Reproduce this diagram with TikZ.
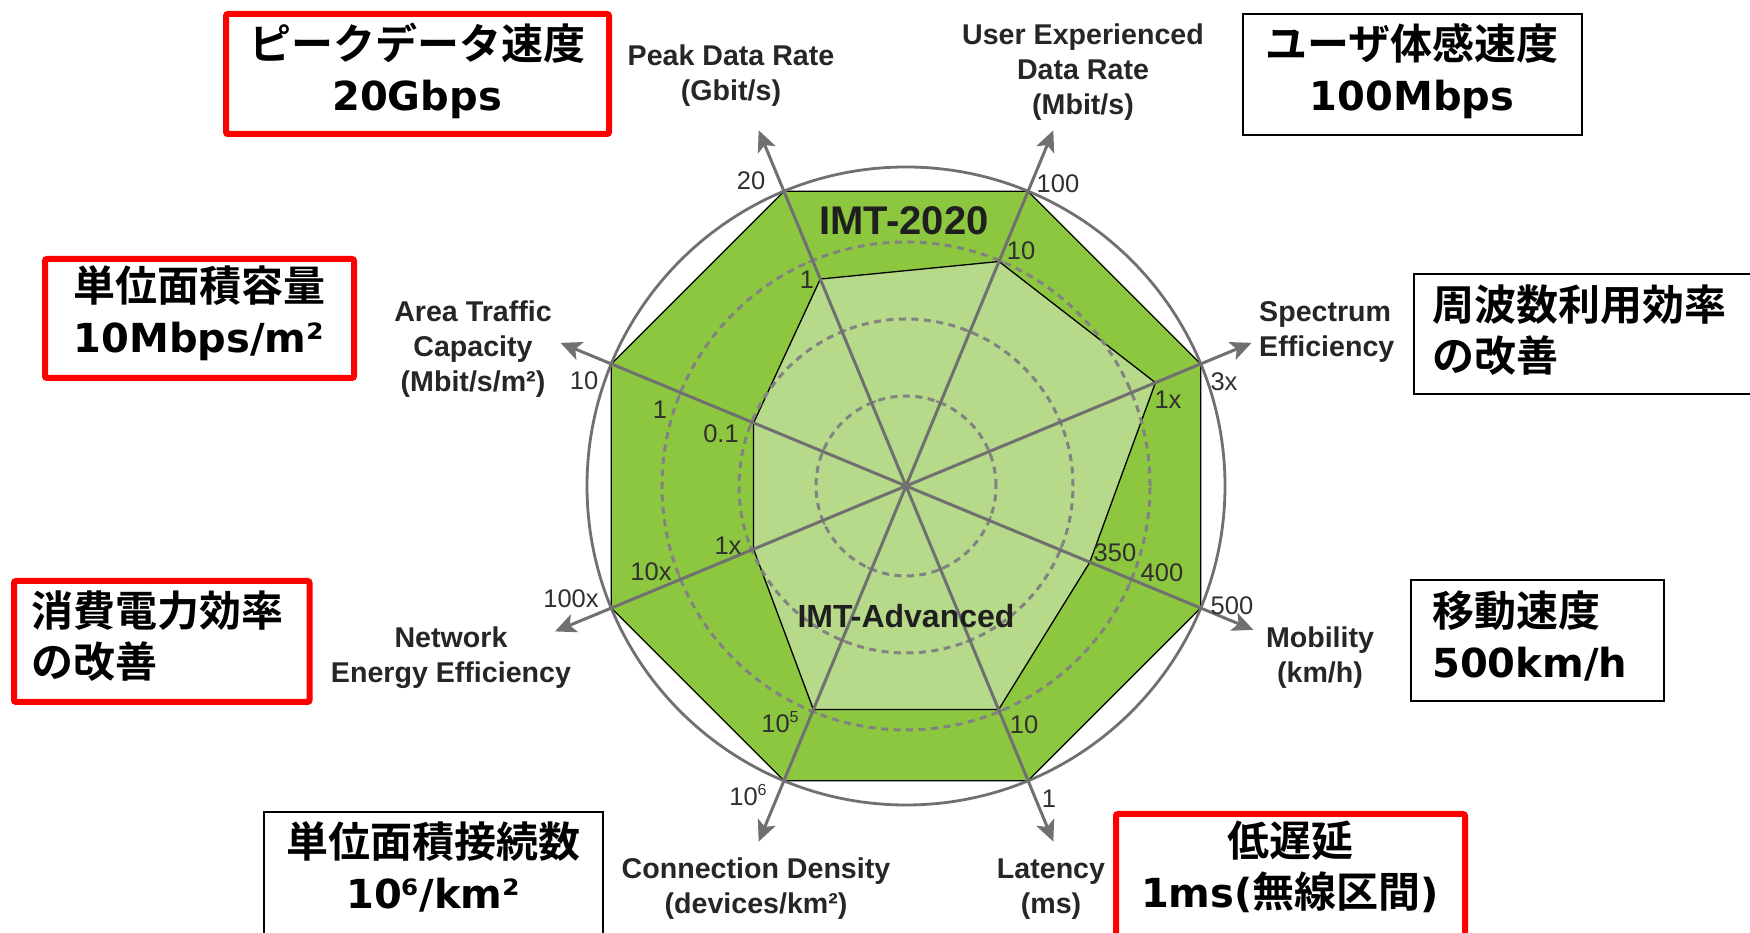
\documentclass[tikz,border=0pt]{standalone}
\usepackage{fontspec}
\setmainfont{Liberation Sans}
\newfontfamily\jpf{Noto Sans CJK JP Bold}[Scale=1.05]
\newfontfamily\latf{DejaVu Sans Bold}
\usetikzlibrary{calc,arrows.meta}

\definecolor{ringgreen}{RGB}{141,198,63}
\definecolor{coregreen}{RGB}{183,217,138}
\definecolor{axisgray}{RGB}{112,112,112}
\definecolor{dashgray}{RGB}{130,130,130}
\definecolor{labelink}{RGB}{38,38,38}
\definecolor{ticklink}{RGB}{48,48,48}
\definecolor{boxred}{RGB}{255,0,0}

% small raised digit for powers of ten on the scale labels
\newcommand\supnum[1]{\raisebox{0.42em}{\fontsize{16}{16}\selectfont #1}}

\begin{document}
\begin{tikzpicture}[x=1pt,y=1pt,
  axisline/.style={draw=axisgray, line width=3pt,
    -{Stealth[length=21pt,width=19pt,inset=5pt]}},
  dashring/.style={draw=dashgray, line width=3pt, dash pattern=on 7pt off 5.5pt},
  outerring/.style={draw=axisgray, line width=2.8pt},
  scaletick/.style={draw=dashgray, line width=2pt},
  axlabel/.style={font=\bfseries\fontsize{28.6}{35}\selectfont, text=labelink,
    align=center, inner sep=0pt},
  ticklab/.style={font=\fontsize{25.5}{25.5}\selectfont, text=ticklink, inner sep=0pt},
  gentitle/.style={font=\bfseries\fontsize{40}{40}\selectfont, text=black!88, inner sep=0pt},
  boxtext/.style={font=\latf\fontsize{40}{51}\selectfont, text=black, inner sep=0pt},
  redframe/.style={draw=boxred, line width=6pt, rounded corners=2pt},
  blackframe/.style={draw=black, line width=2.2pt}
]
\useasboundingbox (0,0) rectangle (1750,933);
\fill[white] (0,0) rectangle (1750,933);

\coordinate (C) at (906,447);

% IMT-2020 octagon
\filldraw[fill=ringgreen, draw=black, line width=1.3pt]
  ($(C)+(22.5:319)$) -- ($(C)+(67.5:319)$) -- ($(C)+(112.5:319)$) --
  ($(C)+(157.5:319)$) -- ($(C)+(202.5:319)$) -- ($(C)+(247.5:319)$) --
  ($(C)+(292.5:319)$) -- ($(C)+(337.5:319)$) -- cycle;

% IMT-Advanced polygon
\filldraw[fill=coregreen, draw=black, line width=1.3pt]
  ($(C)+(112.5:224)$) -- ($(C)+(67.5:243)$) -- ($(C)+(22.5:270)$) --
  ($(C)+(-22.5:199)$) -- ($(C)+(-67.5:242)$) -- ($(C)+(-112.5:242)$) --
  ($(C)+(-157.5:165)$) -- ($(C)+(157.5:165)$) -- cycle;

% scale rings
\draw[dashring] (C) circle[radius=90];
\draw[dashring] (C) circle[radius=167];
\draw[dashring] (C) circle[radius=244];
\foreach \a in {22.5,67.5,112.5,157.5,202.5,247.5,292.5,337.5}
  \foreach \r in {90,167,244}
    \draw[scaletick] ($(C)+(\a:\r)+(\a+90:4.5)$) -- ($(C)+(\a:\r)+(\a-90:4.5)$);

\draw[outerring] (C) circle[radius=319];

% axis ends
\coordinate (aPeak) at ($(C)+(112.5:385)$);
\coordinate (aUser) at ($(C)+(67.5:385)$);
\coordinate (aSpec) at ($(C)+(22.5:374)$);
\coordinate (aMob)  at ($(C)+(-22.5:376)$);
\coordinate (aLat)  at ($(C)+(-67.5:385)$);
\coordinate (aConn) at ($(C)+(-112.5:385)$);
\coordinate (aNet)  at ($(C)+(-157.5:380)$);
\coordinate (aArea) at ($(C)+(157.5:374)$);

\foreach \e in {aPeak,aUser,aSpec,aMob,aLat,aConn,aNet,aArea}
  \draw[axisline] (C) -- (\e);

% scale values
\node[ticklab] (t20)   at (751,752) {20};
\node[ticklab] (t1a)   at (807,653) {1};
\node[ticklab] (t100)  at (1058,749) {100};
\node[ticklab] (t10a)  at (1021,682) {10};
\node[ticklab] (t3x)   at (1224,551) {3x};
\node[ticklab] (t1xa)  at (1168,533) {1x};
\node[ticklab] (t500)  at (1232,327) {500};
\node[ticklab] (t400)  at (1162,360) {400};
\node[ticklab] (t350)  at (1115,380) {350};
\node[ticklab] (t1b)   at (1049,134) {1};
\node[ticklab] (t10b)  at (1024,208) {10};
\node[ticklab] (t106)  at (748,138) {10\supnum{6}};
\node[ticklab] (t105)  at (780,211) {10\supnum{5}};
\node[ticklab] (t100x) at (571,334) {100x};
\node[ticklab] (t10x)  at (651,361) {10x};
\node[ticklab] (t1xb)  at (728,387) {1x};
\node[ticklab] (t10c)  at (584,552) {10};
\node[ticklab] (t1c)   at (660,523) {1};
\node[ticklab] (t01)   at (721,499) {0.1};

% generation titles
\node[gentitle] (imt2020) at (904,712) {IMT-2020};
\node[gentitle, font=\bfseries\fontsize{32}{32}\selectfont] (imtadv) at (906,317) {IMT-Advanced};

% axis names
\node[axlabel] (lPeak) at (731,857) {Peak Data Rate\\(Gbit/s)};
\node[axlabel] (lUser) at (1083,861) {User Experienced\\Data Rate\\(Mbit/s)};
\node[axlabel, align=left, anchor=west] (lSpec) at (1259,601) {Spectrum\\Efficiency};
\node[axlabel] (lMob)  at (1320,275) {Mobility\\(km/h)};
\node[axlabel] (lLat)  at (1051,44) {Latency\\(ms)};
\node[axlabel] (lConn) at (756,44) {Connection Density\\(devices/km²)};
\node[axlabel] (lNet)  at (451,275) {Network\\Energy Efficiency};
\node[axlabel] (lArea) at (473,584) {Area Traffic\\Capacity\\(Mbit/s/m²)};

% requirement boxes
\draw[redframe]   (226,799) rectangle (609,919);
\draw[blackframe] (1243,798) rectangle (1582,919);
\draw[redframe]   (45,555) rectangle (354,674);
\draw[blackframe] (1414,539) rectangle (1800,659);
\draw[redframe]   (14,231) rectangle (309.5,352);
\draw[blackframe] (1411,232) rectangle (1664,353);
\draw[blackframe] (264,-20) rectangle (603,121);
\draw[redframe]   (1116,-20) rectangle (1465,119);

\node[boxtext, align=center] (bPeak) at (417,862) {{\jpf ピークデータ速度}\\20Gbps};
\node[boxtext, align=center] (bUser) at (1412,862) {{\jpf ユーザ体感速度}\\100Mbps};
\node[boxtext, align=center] (bArea) at (199,620) {{\jpf 単位面積容量}\\10Mbps/m²};
\node[boxtext, align=left, anchor=west] (bSpec) at (1432,603) {{\jpf 周波数利用効率}\\{\jpf の改善}};
\node[boxtext, align=left, anchor=west] (bNet) at (31,297) {{\jpf 消費電力効率}\\{\jpf の改善}};
\node[boxtext, align=left, anchor=west] (bMob) at (1432,297) {{\jpf 移動速度}\\500km/h};
\node[boxtext, align=center] (bConn) at (433,66) {{\jpf 単位面積接続数}\\10⁶/km²};
\node[boxtext, align=center] (bLat) at (1290,66) {{\jpf 低遅延}\\1ms({\jpf 無線区間})};
\end{tikzpicture}
\end{document}
